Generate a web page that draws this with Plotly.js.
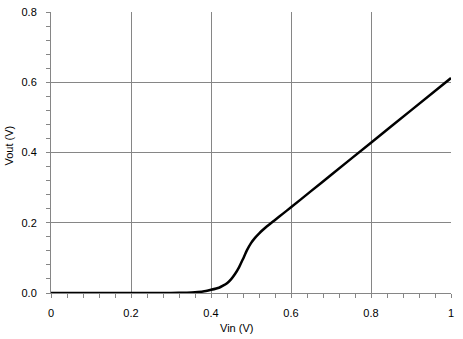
<!DOCTYPE html>
<html>
<head>
<meta charset="utf-8">
<script src="https://cdn.plot.ly/plotly-3.0.1.min.js"></script>
<style>html,body{margin:0;padding:0;background:#fff;}#chart{width:463px;height:339px;}</style>
</head>
<body>
<div id="chart"></div>
<script>
var vin  = [0, 0.1, 0.2, 0.3, 0.34, 0.36, 0.38, 0.40, 0.42, 0.43, 0.44, 0.45, 0.46, 0.47, 0.48, 0.49, 0.50, 0.51, 0.52, 0.53, 0.54, 0.56, 0.58, 0.60, 0.65, 0.70, 0.80, 0.90, 1.00];
var vout = [0, 0, 0, 0, 0.001, 0.002, 0.004, 0.009, 0.015, 0.021, 0.028, 0.039, 0.054, 0.073, 0.097, 0.122, 0.142, 0.157, 0.169, 0.180, 0.190, 0.208, 0.226, 0.244, 0.290, 0.336, 0.428, 0.520, 0.612];
var xTicks = [0, 0.2, 0.4, 0.6, 0.8, 1];
var xTickText = ['0', '0.2', '0.4', '0.6', '0.8', '1'];
var yTicks = [0, 0.2, 0.4, 0.6, 0.8];
var yTickText = ['0.0', '0.2', '0.4', '0.6', '0.8'];
var xTitle = 'Vin (V)';
var yTitle = 'Vout (V)';

var font = {family: 'Liberation Sans, Arial, sans-serif', size: 11, color: '#000'};
var grey = '#868686';

var trace = {
  x: vin, y: vout, type: 'scatter', mode: 'lines',
  line: {color: '#000', width: 2.5, shape: 'spline', smoothing: 0.5},
  hoverinfo: 'skip'
};

var layout = {
  width: 463, height: 339,
  margin: {l: 51, r: 12, t: 12, b: 46, pad: 0},
  paper_bgcolor: '#fff', plot_bgcolor: '#fff',
  showlegend: false,
  font: font,
  xaxis: {
    range: [0, 1], tickvals: xTicks, ticktext: xTickText,
    showgrid: true, gridcolor: grey, gridwidth: 1,
    showline: true, linecolor: grey, linewidth: 1,
    ticks: 'outside', ticklen: 4, tickcolor: grey, tickwidth: 1,
    ticklabelstandoff: 6,
    minor: {dtick: 0.04, tick0: 0, ticks: 'outside', ticklen: 4, tickcolor: grey, showgrid: false},
    zeroline: false, tickfont: font, fixedrange: true
  },
  yaxis: {
    range: [0, 0.8], tickvals: yTicks, ticktext: yTickText,
    showgrid: true, gridcolor: grey, gridwidth: 1,
    showline: true, linecolor: grey, linewidth: 1,
    ticks: 'outside', ticklen: 4, tickcolor: grey, tickwidth: 1,
    ticklabelstandoff: 7,
    minor: {dtick: 0.04, tick0: 0, ticks: 'outside', ticklen: 4, tickcolor: grey, showgrid: false},
    zeroline: false, tickfont: font, fixedrange: true
  },
  annotations: [
    {text: xTitle, xref: 'paper', yref: 'paper', x: 0.463, y: -0.095, xanchor: 'center', yanchor: 'top', showarrow: false, font: font},
    {text: yTitle, xref: 'paper', yref: 'paper', x: -0.105, y: 0.525, xanchor: 'center', yanchor: 'middle', textangle: -90, showarrow: false, font: font}
  ]
};

Plotly.newPlot('chart', [trace], layout, {staticPlot: true, displayModeBar: false});
</script>
</body>
</html>
